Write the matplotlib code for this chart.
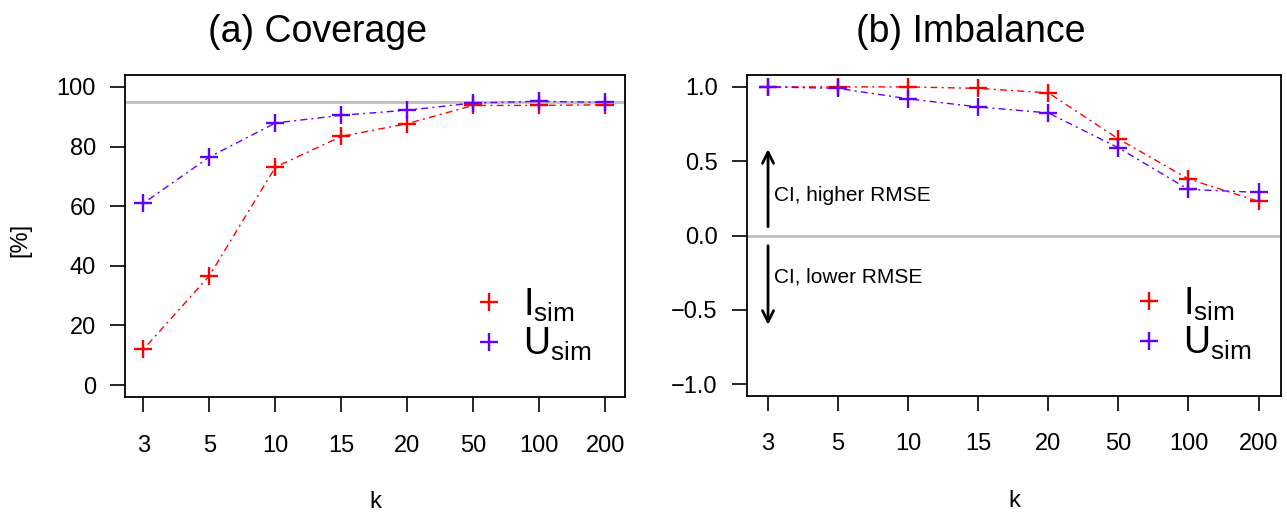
import numpy as np
import matplotlib
matplotlib.use("Agg")
import matplotlib.pyplot as plt

plt.rcParams['font.family'] = ['Liberation Sans', 'DejaVu Sans']
plt.rcParams['mathtext.fontset'] = 'custom'
plt.rcParams['mathtext.rm'] = 'Liberation Sans'
plt.rcParams['mathtext.it'] = 'Liberation Sans'

# data
k_labels = ["3", "5", "10", "15", "20", "50", "100", "200"]
cov_I = [12.0, 36.7, 73.1, 83.4, 87.7, 93.8, 93.8, 94.0]
cov_U = [61.0, 76.5, 87.9, 90.5, 92.2, 94.6, 95.2, 94.8]
cov_nominal = 95
imb_I = [1.0, 1.0, 1.0, 0.99, 0.96, 0.65, 0.38, 0.23]
imb_U = [1.0, 0.99, 0.92, 0.865, 0.825, 0.59, 0.31, 0.29]

red = "#FF0000"
blue = "#6000FF"
dash = (1.5, 3, 5, 3)
x = np.arange(1, len(k_labels) + 1)

fig = plt.figure(figsize=(12.87, 5.12), dpi=100)
ax1 = fig.add_axes([125/1287, 1-397/512, 500/1287, 322/512])
ax2 = fig.add_axes([747/1287, 1-396/512, 534/1287, 321/512])


def style_axis(ax):
    ax.set_xticks(x)
    ax.set_xticklabels(k_labels)
    ax.tick_params(axis='both', length=11, width=1.2, labelsize=17)
    ax.tick_params(axis='x', pad=16)
    ax.tick_params(axis='y', pad=10)
    for s in ax.spines.values():
        s.set_linewidth(1.3)
    ax.set_xlabel("k", fontsize=17, labelpad=25)


def draw(ax, yi, yu, anchor):
    ax.plot(x, yi, color=red, lw=1.0, dashes=dash, marker='+', ms=13, mew=1.7)
    ax.plot(x, yu, color=blue, lw=1.0, dashes=dash, marker='+', ms=13, mew=1.7)
    hi, = ax.plot([], [], color=red, ls='none', marker='+', ms=13, mew=1.7)
    hu, = ax.plot([], [], color=blue, ls='none', marker='+', ms=13, mew=1.7)
    ax.legend([hi, hu], [r"$\mathrm{I}_{\mathrm{sim}}$", r"$\mathrm{U}_{\mathrm{sim}}$"],
              loc='lower left', bbox_to_anchor=anchor, frameon=False,
              fontsize=27, handlelength=0.8, handletextpad=0.5, labelspacing=0.05,
              borderpad=0, borderaxespad=0)


# (a) coverage
ax1.axhline(cov_nominal, color="#BEBEBE", lw=2, zorder=1)
draw(ax1, cov_I, cov_U, ((474-125)/500, (397-363)/322))
ax1.set_ylim(-4, 104)
ax1.set_yticks([0, 20, 40, 60, 80, 100])
style_axis(ax1)
ax1.set_xlim(0.72, 8.3)
fig.text(20/1287, 1-240/512, "[%]", rotation=90, fontsize=17, ha='center', va='center')

# (b) imbalance
ax2.axhline(0, color="#BEBEBE", lw=2, zorder=1)
draw(ax2, imb_I, imb_U, ((1134-747)/534, (396-362)/321))
ax2.set_ylim(-1.08, 1.08)
ax2.set_yticks([-1.0, -0.5, 0.0, 0.5, 1.0])
ax2.set_yticklabels(["\u22121.0", "\u22120.5", "0.0", "0.5", "1.0"])
style_axis(ax2)
ax2.set_xlim(0.7, 8.32)
ax2.annotate("", xy=(1, 0.6), xytext=(1, 0.04),
             arrowprops=dict(arrowstyle='->,head_length=0.8,head_width=0.4', lw=2, color='black'))
ax2.annotate("", xy=(1, -0.62), xytext=(1, -0.05),
             arrowprops=dict(arrowstyle='->,head_length=0.8,head_width=0.4', lw=2, color='black'))
ax2.text(1.08, 0.27, "CI, higher RMSE", fontsize=15, va='center', ha='left')
ax2.text(1.08, -0.28, "CI, lower RMSE", fontsize=15, va='center', ha='left')

fig.text(318/1287, 1-32/512, "(a) Coverage", fontsize=27, ha='center', va='center')
fig.text(971/1287, 1-32/512, "(b) Imbalance", fontsize=27, ha='center', va='center')

fig.savefig("out.png", dpi=100)
